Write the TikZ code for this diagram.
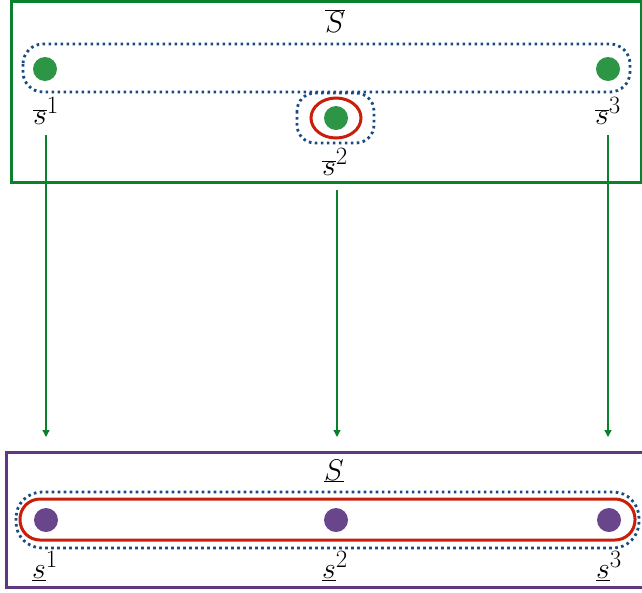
\documentclass[tikz,border=0pt]{standalone}
\usetikzlibrary{arrows.meta}
\definecolor{boxgreen}{RGB}{10,130,45}
\definecolor{dotgreen}{RGB}{45,150,70}
\definecolor{boxpurple}{RGB}{95,55,130}
\definecolor{dotpurple}{RGB}{105,70,140}
\definecolor{setblue}{RGB}{25,75,130}
\definecolor{setred}{RGB}{200,30,10}
% large math labels (the math fonts stop at 24.88pt, so scale up)
\newcommand{\biglbl}[1]{\scalebox{1.2}{\fontsize{24.88}{30}\selectfont$#1$}}
\tikzset{
  upperframe/.style={draw=boxgreen, line width=3pt},
  lowerframe/.style={draw=boxpurple, line width=3pt},
  dottedset/.style={draw=setblue, line width=2.8pt, dash pattern=on 2.6pt off 3.4pt},
  redset/.style={draw=setred, line width=3pt},
  gdot/.style={circle, fill=dotgreen, minimum size=24pt, inner sep=0pt},
  pdot/.style={circle, fill=dotpurple, minimum size=24pt, inner sep=0pt},
  lbl/.style={inner sep=0pt},
  maparrow/.style={draw=boxgreen, line width=1.3pt, -{Triangle[length=7pt,width=7pt]}}
}
\begin{document}
\begin{tikzpicture}[x=1pt,y=-1pt]
\useasboundingbox (0,0) rectangle (642,592);

% upper set
\draw[upperframe] (11,1.5) rectangle (641,182);
\node[lbl] (Sbar) at (335,21) {\biglbl{\overline{S}}};
\draw[dottedset, rounded corners=20pt] (23,44) rectangle (630,92);
\draw[dottedset, rounded corners=18pt] (297,93) rectangle (374,143);
\node[gdot] (u1) at (45,69) {};
\node[gdot] (u2) at (336,118) {};
\node[gdot] (u3) at (608,69) {};
\draw[redset] (u2) ellipse (25pt and 20pt);
\node[lbl] (lu1) at (46,111) {\biglbl{\overline{s}^1}};
\node[lbl] (lu2) at (335,162) {\biglbl{\overline{s}^2}};
\node[lbl] (lu3) at (608,111) {\biglbl{\overline{s}^3}};

% lower set
\draw[lowerframe] (6,452) rectangle (645,587);
\node[lbl] (Sund) at (334,471) {\biglbl{\underline{S}}};
\draw[dottedset, rounded corners=26pt] (16,492) rectangle (639,548);
\draw[redset, rounded corners=20pt] (20,499) rectangle (635,540);
\node[pdot] (d1) at (46,520) {};
\node[pdot] (d2) at (336,520) {};
\node[pdot] (d3) at (609,520) {};
\node[lbl] (ld1) at (45,566) {\biglbl{\underline{s}^1}};
\node[lbl] (ld2) at (335,566) {\biglbl{\underline{s}^2}};
\node[lbl] (ld3) at (609,566) {\biglbl{\underline{s}^3}};

% maps from the upper to the lower set
\coordinate (a1) at (46,135);
\coordinate (a2) at (337,190);
\coordinate (a3) at (608,135);
\coordinate (b1) at (46,437);
\coordinate (b2) at (337,437);
\coordinate (b3) at (608,437);
\draw[maparrow] (a1) -- (b1);
\draw[maparrow] (a2) -- (b2);
\draw[maparrow] (a3) -- (b3);
\end{tikzpicture}
\end{document}
